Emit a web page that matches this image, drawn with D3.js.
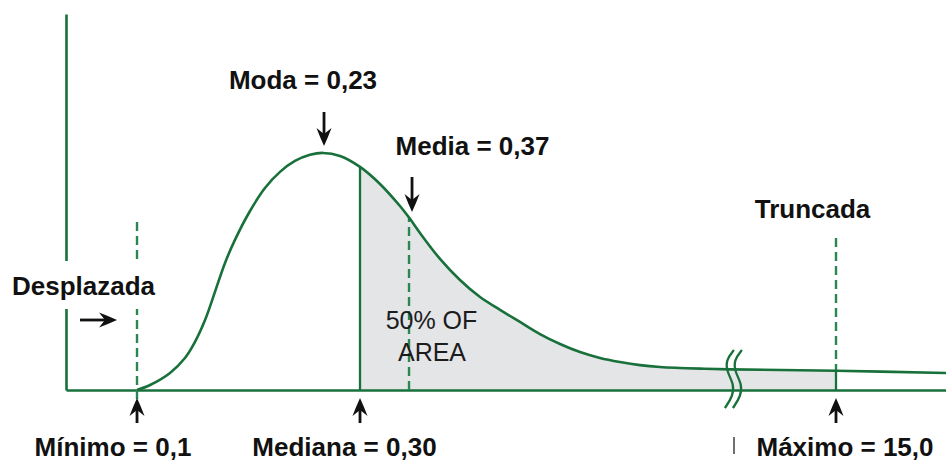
<!DOCTYPE html>
<html><head><meta charset="utf-8">
<script src="https://cdn.jsdelivr.net/npm/d3@7"></script>
<style>html,body{margin:0;padding:0;background:#fff;} svg{display:block;}</style>
</head><body>
<svg id="chart" width="946" height="462"></svg>
<script>
// Schematic position along the (broken) x axis, 0–100, and relative density (mode = 1)
const curveX = [8.07, 9.55, 11.82, 13.52, 14.66, 15.80, 16.93, 18.07, 19.20, 20.91, 22.61, 24.32, 26.02, 27.73, 29.20, 31.14, 33.41, 35.68, 37.95, 39.09, 40.23, 42.50, 44.77, 47.05, 49.32, 51.59, 53.86, 56.14, 58.41, 60.68, 62.95, 65.23, 67.50, 69.77, 72.05, 75.45, 87.5, 100];
const curveY = [0, 0.021, 0.072, 0.135, 0.203, 0.295, 0.414, 0.536, 0.633, 0.755, 0.852, 0.920, 0.966, 0.992, 1.0, 0.987, 0.941, 0.869, 0.776, 0.722, 0.662, 0.553, 0.464, 0.392, 0.338, 0.287, 0.236, 0.194, 0.160, 0.135, 0.118, 0.105, 0.097, 0.093, 0.090, 0.087, 0.081, 0.072];

// Marker statistics
const markerNames = ["Mínimo", "Moda", "Mediana", "Media", "Máximo"];
const markerLabels = ["Mínimo = 0,1", "Moda = 0,23", "Mediana = 0,30", "Media = 0,37", "Máximo = 15,0"];
const markerPos = [8.07, 29.32, 33.41, 38.98, 87.5];
const breakPos = 75.9;

const extraLabels = ["Desplazada", "Truncada"];
const areaLabel = ["50% OF", "AREA"];

// ---------- layout ----------
const W = 946, H = 462;
const plot = {left: 66, right: 946, top: 14, bottom: 390};
const yMax = 1.586;
const green = "#18703a", dashGreen = "#2a8752", shade = "#e4e5e7";

const svg = d3.select("#chart");
const x = d3.scaleLinear().domain([0, 100]).range([plot.left, plot.right]);
const y = d3.scaleLinear().domain([0, yMax]).range([plot.bottom, plot.top]);

const pts = curveX.map((v, i) => [v, curveY[i]]);
const pos = n => markerPos[markerNames.indexOf(n)];

const interp = d3.curveCatmullRom.alpha(0.5);
const area = d3.area().x(d => x(d[0])).y0(y(0)).y1(d => y(d[1])).curve(interp);
const line = d3.line().x(d => x(d[0])).y(d => y(d[1])).curve(interp);

const defs = svg.append("defs");
defs.append("clipPath").attr("id", "shadeClip").append("rect")
  .attr("x", x(pos("Mediana"))).attr("y", 0)
  .attr("width", x(pos("Máximo")) - x(pos("Mediana"))).attr("height", H);
defs.append("clipPath").attr("id", "underCurve").append("path").attr("d", area(pts));

// shaded 50% area
svg.append("path").attr("d", area(pts)).attr("fill", shade).attr("clip-path", "url(#shadeClip)");

// axes (no ticks)
const gx = svg.append("g").attr("transform", `translate(0,${y(0)})`)
  .call(d3.axisBottom(x).tickValues([]).tickSizeOuter(0));
const gy = svg.append("g").attr("transform", `translate(${x(0)},0)`)
  .call(d3.axisLeft(y).tickValues([]).tickSizeOuter(0));
[gx, gy].forEach(g => g.select(".domain").attr("stroke", green).attr("stroke-width", 2.6));

// vertical lines under the curve (clipped to area)
const under = svg.append("g").attr("clip-path", "url(#underCurve)");
under.append("line").attr("x1", x(pos("Mediana"))).attr("x2", x(pos("Mediana")))
  .attr("y1", y(0)).attr("y2", y(1.2)).attr("stroke", green).attr("stroke-width", 2.3);
under.append("line").attr("x1", x(pos("Máximo"))).attr("x2", x(pos("Máximo")))
  .attr("y1", y(0)).attr("y2", y(1.2)).attr("stroke", green).attr("stroke-width", 2.3);
under.append("line").attr("x1", x(pos("Media"))).attr("x2", x(pos("Media")))
  .attr("y1", y(0)).attr("y2", y(1.2)).attr("stroke", dashGreen).attr("stroke-width", 2.4)
  .attr("stroke-dasharray", "9,5");

// dashed shift / truncation lines
svg.append("line").attr("x1", x(pos("Mínimo"))).attr("x2", x(pos("Mínimo")))
  .attr("y1", y(0.709)).attr("y2", y(0) + 9).attr("stroke", dashGreen).attr("stroke-width", 2.4)
  .attr("stroke-dasharray", "9,5");
svg.append("line").attr("x1", x(pos("Máximo"))).attr("x2", x(pos("Máximo")))
  .attr("y1", y(0.641)).attr("y2", y(0.081)).attr("stroke", dashGreen).attr("stroke-width", 2.4)
  .attr("stroke-dasharray", "9,5");

// curve
svg.append("path").attr("d", line(pts)).attr("fill", "none").attr("stroke", green).attr("stroke-width", 2.6);

// axis break symbol
const wave = d3.line().curve(d3.curveBasis);
[-4, 4].forEach(dx => {
  const cx = x(breakPos) + dx, t = y(0) - 40;
  const p = [[cx + 4, t], [cx - 4, t + 10], [cx - 3, t + 22], [cx + 4, t + 34], [cx + 3, t + 46], [cx - 5, t + 58]];
  svg.append("path").attr("d", wave(p)).attr("fill", "none").attr("stroke", green).attr("stroke-width", 2.3);
});

// arrows
function arrow(x1, y1, x2, y2) {
  const ang = Math.atan2(y2 - y1, x2 - x1);
  const L = 18, hw = 7.5, notch = 12;
  const g = svg.append("g").attr("transform", `translate(${x2},${y2}) rotate(${ang * 180 / Math.PI})`);
  const len = Math.hypot(x2 - x1, y2 - y1);
  g.append("line").attr("x1", -len).attr("x2", -notch + 1).attr("y1", 0).attr("y2", 0)
    .attr("stroke", "#111").attr("stroke-width", 2.8);
  g.append("path").attr("d", `M0,0 Q-9,${-hw * 0.55} ${-L},${-hw} L${-notch},0 L${-L},${hw} Q-9,${hw * 0.55} 0,0 Z`)
    .attr("fill", "#111");
}
["Mínimo", "Mediana", "Máximo"].forEach(n => arrow(x(pos(n)), y(0) + 33, x(pos(n)), y(0) + 8));
arrow(x(pos("Moda")), 112, x(pos("Moda")), 146);
arrow(x(pos("Media")) + 3, 177, x(pos("Media")) + 3, 212);

// white box behind "Desplazada"
svg.append("rect").attr("x", 0).attr("y", 261).attr("width", 165).attr("height", 48).attr("fill", "#fff");
arrow(80, 320, 117, 320);

// labels
const bold = {"font-family": "'Liberation Sans', Arial, Helvetica, sans-serif", "font-weight": "bold", "font-size": "26px", "fill": "#111"};
function txt(s, cx, by, style) {
  const t = svg.append("text").attr("x", cx).attr("y", by).attr("text-anchor", "middle").text(s);
  Object.entries(style).forEach(([k, v]) => t.attr(k, v));
}
const labelLayout = {"Mínimo": [113, 456], "Moda": [303, 89], "Mediana": [344.5, 456], "Media": [472.5, 155], "Máximo": [845, 456]};
markerNames.forEach((n, i) => txt(markerLabels[i], labelLayout[n][0], labelLayout[n][1], bold));
txt(extraLabels[0], 83.5, 295, bold);
txt(extraLabels[1], 812.5, 218, bold);

const reg = {"font-family": "'Liberation Sans', Arial, Helvetica, sans-serif", "font-size": "25px", "fill": "#1c1c1c"};
txt(areaLabel[0], 431.5, 329, reg);
txt(areaLabel[1], 432, 361, reg);

// small stray tick mark below the break
svg.append("line").attr("x1", 734).attr("x2", 734).attr("y1", 437).attr("y2", 454)
  .attr("stroke", "#333").attr("stroke-width", 1.4);
</script>
</body></html>
